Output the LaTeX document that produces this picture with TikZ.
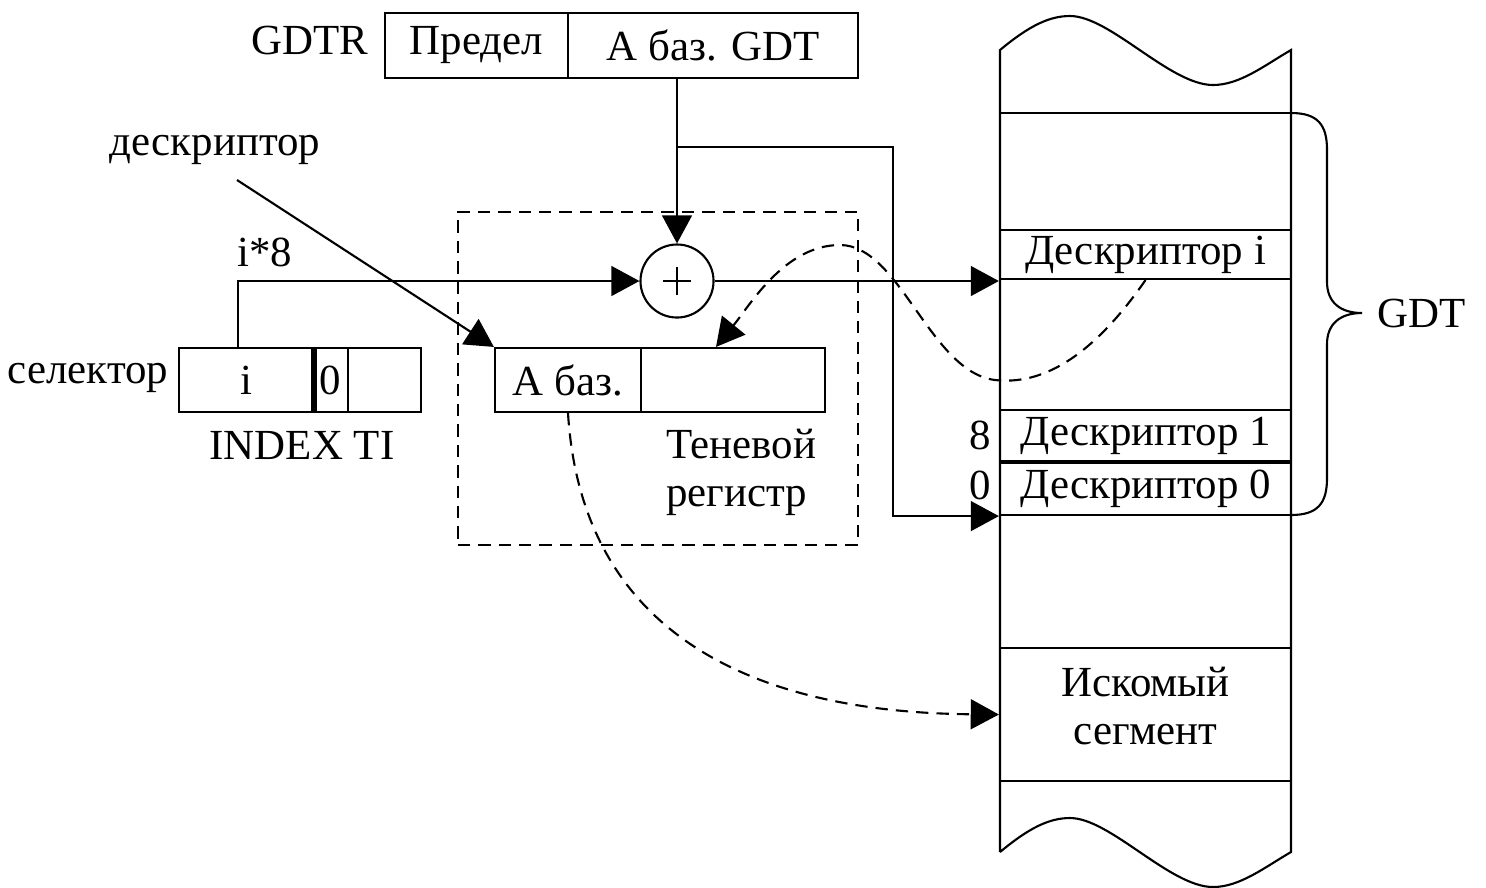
\documentclass[tikz,border=0pt]{standalone}
\usepackage{fontspec}
\setmainfont{Liberation Serif}
\usetikzlibrary{arrows.meta}
\begin{document}
\begin{tikzpicture}[x=0.01cm,y=-0.01cm,line width=0.6pt,
  every node/.style={font=\fontsize{12.2}{13.6}\selectfont,inner sep=0pt},
  arr/.style={-{Triangle[length=8pt,width=8.5pt]}},
  dsh/.style={dash pattern=on 3.5pt off 2.3pt},
  cellbox/.style={draw,minimum height=#1},
  lbl/.style={}]
\useasboundingbox (0,0) rectangle (1486,887);
% GDTR
\node[lbl] (gdtrl) at (310,40) {GDTR};
\node[cellbox=0.65cm,minimum width=1.83cm] (lim) at (476.5,45.5) {Предел};
\node[cellbox=0.65cm,minimum width=2.90cm] (gbase) at (713,45.5) {А баз. GDT};
% adder
\node[draw,circle,minimum size=0.73cm] (plus) at (677,281) {};
\draw ([xshift=-0.14cm]plus.center) -- ([xshift=0.14cm]plus.center);
\draw ([yshift=-0.14cm]plus.center) -- ([yshift=0.14cm]plus.center);
% selector
\node[lbl] (sell) at (88,378) {селектор};
\node[cellbox=0.64cm,minimum width=1.34cm] (seli) at (246,380) {i};
\node[cellbox=0.64cm,minimum width=0.35cm] (sel0) at (330.5,380) {0};
\node[cellbox=0.64cm,minimum width=0.73cm] (selr) at (384.5,380) {};
\draw[line width=1.6pt] (seli.north east) -- (seli.south east);
\node[lbl] (idx) at (302,445) {INDEX TI};
% shadow register
\node[draw,dsh,minimum width=4cm,minimum height=3.33cm] (shadow) at (658,378.5) {};
\node[cellbox=0.64cm,minimum width=1.46cm] (sha) at (568,380) {А баз.};
\node[cellbox=0.64cm,minimum width=1.84cm] (shb) at (733,380) {};
\node[lbl,align=left,anchor=west] (shl) at (665,472) {Теневой\\регистр};
% labels
\node[lbl] (descl) at (215,150) {дескриптор};
\coordinate (dstart) at (237,180);
\node[lbl] (i8) at (265,252) {i*8};
% memory column
\draw (1000,852) -- (1000,50) .. controls (1030,25) and (1050,16) .. (1070,16)
  .. controls (1110,16) and (1170,85) .. (1213,85)
  .. controls (1240,85) and (1265,65) .. (1291,50) -- (1291,852)
  .. controls (1265,867) and (1240,887) .. (1213,887)
  .. controls (1170,887) and (1110,818) .. (1070,818)
  .. controls (1050,818) and (1030,827) .. (1000,852);
\draw (1000,113) -- (1291,113);
\node[cellbox=0.49cm,minimum width=2.91cm] (di) at (1145.5,254.5) {Дескриптор i};
\node[cellbox=0.51cm,minimum width=2.91cm] (d1) at (1145.5,435.5) {Дескриптор 1};
\node[cellbox=0.52cm,minimum width=2.91cm] (d0) at (1145.5,489) {Дескриптор 0};
\node[cellbox=1.33cm,minimum width=2.91cm] (seg) at (1145.5,714.5) {};
\node[lbl,align=center] (segt) at (1145.5,706) {Искомый\\сегмент};
\node[lbl] (n8) at (980,435) {8};
\node[lbl] (n0) at (980,485) {0};
% brace
\draw (1291,113) .. controls (1318,113) and (1327,125) .. (1327,150) -- (1327,282)
  .. controls (1327,302) and (1340,313) .. (1362,313)
  .. controls (1340,313) and (1327,324) .. (1327,344) -- (1327,478)
  .. controls (1327,503) and (1318,515) .. (1291,515);
\node[lbl] (gdtl) at (1422,313) {GDT};
% connectors
\coordinate (bx) at (893,147);
\draw[arr] (plus |- gbase.south) -- (plus.north);
\draw[arr] (plus |- bx) -- (bx) |- (d0.south west);
\draw[arr] ([xshift=-0.08cm]seli.north) |- (plus.west);
\draw[arr] (plus.east) -- (plus.east -| di.west);
\draw[arr] (dstart) -- (sha.north west);
\draw[arr,dsh] (sha.south) .. controls (580,610) and (720,712) .. (seg.west);
\draw[arr,dsh] (di.south) .. controls (1090,360) and (1040,385) .. (995,380)
  .. controls (930,372) and (900,245) .. (840,245)
  .. controls (785,245) and (750,305) .. ([xshift=-0.17cm]shb.north);
\end{tikzpicture}
\end{document}
